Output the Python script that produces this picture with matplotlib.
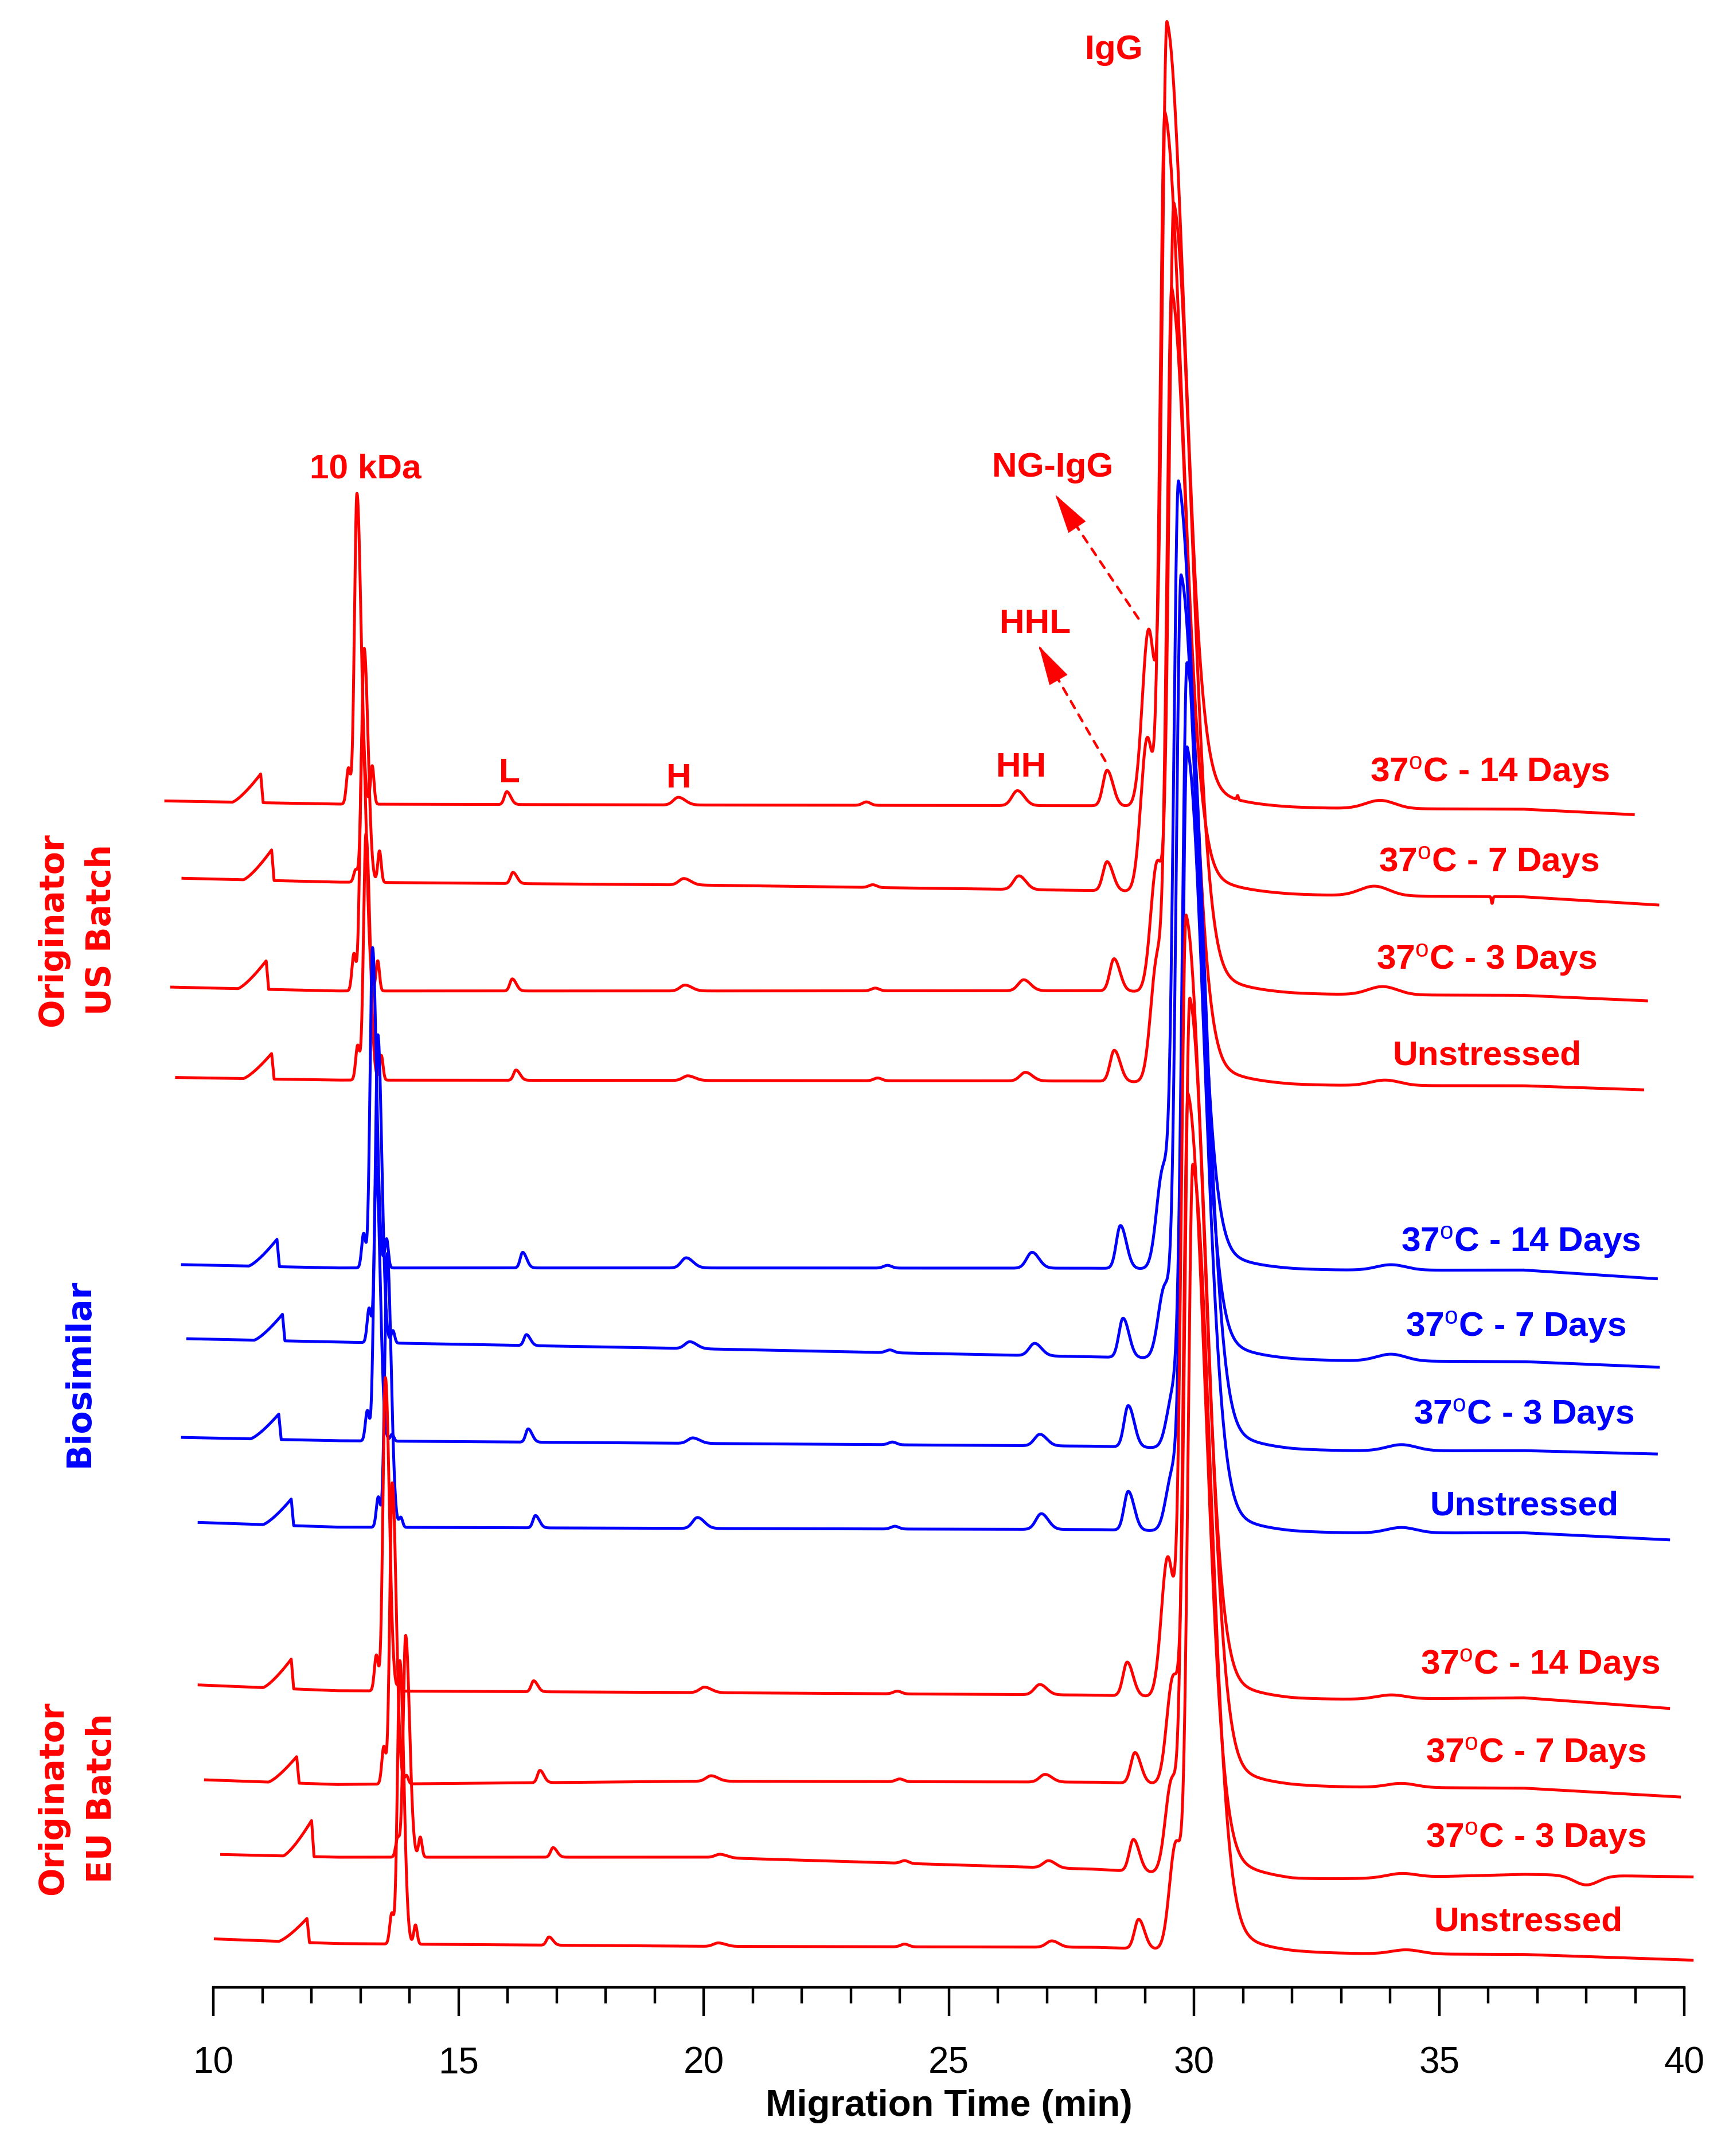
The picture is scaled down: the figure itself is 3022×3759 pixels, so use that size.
import numpy as np
import matplotlib
matplotlib.use("Agg")
import matplotlib.pyplot as plt
from matplotlib.ticker import MultipleLocator

plt.rcParams["font.family"] = ["Liberation Sans", "DejaVu Sans"]
plt.rcParams["mathtext.fontset"] = "custom"
plt.rcParams["mathtext.rm"] = "Liberation Sans"
plt.rcParams["mathtext.it"] = "Liberation Sans:italic"
plt.rcParams["mathtext.bf"] = "Liberation Sans:bold"

RED = "#ff0000"
BLUE = "#0000ff"

# traces: originator US (14d, 7d, 3d, unstressed), biosimilar (same), originator EU (same)
conditions = ["37$^{\\mathrm{o}}$C - 14 Days", "37$^{\\mathrm{o}}$C - 7 Days",
              "37$^{\\mathrm{o}}$C - 3 Days", "Unstressed"]
labels = conditions * 3
colors = [RED] * 4 + [BLUE] * 4 + [RED] * 4

t_start = [9.03, 9.38, 9.15, 9.25, 9.37, 9.48, 9.37, 9.71, 9.71, 9.84, 10.17, 10.04]
t_end = [38.96, 39.46, 39.23, 39.15, 39.43, 39.47, 39.43, 39.68, 39.68, 39.90, 40.16, 40.16]

# baseline level (stacked offset) at start, 12.5, 20, 28, 32, 36.7 min and end
base_knots = [12.5, 20, 28, 32, 36.7]
base_level = [
    [866.6, 864.3, 863.6, 863.1, 861.1, 860.6, 856.6],
    [810.1, 807.3, 805.1, 801.1, 797.6, 796.6, 790.6],
    [730.6, 727.8, 727.8, 728.0, 725.1, 724.6, 720.6],
    [664.6, 662.7, 662.4, 662.0, 658.6, 658.6, 655.6],
    [527.9, 525.5, 525.5, 525.3, 523.6, 524.0, 517.6],
    [473.8, 471.4, 466.4, 460.5, 457.6, 457.1, 453.0],
    [401.7, 399.3, 397.3, 395.3, 391.6, 392.1, 389.6],
    [339.6, 336.2, 335.2, 334.4, 331.6, 332.1, 326.9],
    [220.9, 216.7, 215.3, 213.5, 209.7, 211.6, 203.8],
    [151.6, 148.2, 150.6, 149.9, 146.2, 145.6, 139.1],
    [97.1, 95.1, 95.1, 86.3, 77.9, 82.6, 80.7],
    [35.4, 32.0, 30.0, 29.3, 24.6, 24.1, 19.9],
]

# peak positions (min) and heights
pre_t = [10.966, 11.189, 11.078, 11.189, 11.298, 11.410, 11.334, 11.589, 11.589, 11.700, 12.004, 11.910]
pre_h = [21, 22.4, 20.9, 18.7, 20, 19.4, 18.6, 19.4, 21.7, 19.4, 26.4, 17.6]
sh_t = [12.755, 12.903, 12.867, 12.943, 13.065, 13.177, 13.141, 13.364, 13.325, 13.476, 13.760, 13.638]
sh_h = [26, 9, 27, 25, 25, 25, 22, 22, 26, 27, 14, 22]
kda_t = [12.929, 13.076, 13.040, 13.113, 13.247, 13.356, 13.322, 13.546, 13.509, 13.649, 13.922, 13.805]
kda_h = [227, 171, 190, 180, 234, 225, 200, 200, 229, 220, 162, 207]
post_t = [13.241, 13.389, 13.353, 13.426, 13.534, 13.663, 13.646, 13.825, 13.80, 13.94, 14.221, 14.123]
post_h = [28, 23, 22, 18, 21, 9, 5, 7, 6, 6, 14.6, 14]
l_t = [15.985, 16.111, 16.097, 16.173, 16.309, 16.385, 16.421, 16.569, 16.533, 16.661, 16.929, 16.845]
l_h = [9.4, 8.2, 8.8, 7.5, 11.4, 8, 9.7, 9, 8, 9, 7, 6]
h_t = [19.484, 19.595, 19.618, 19.676, 19.643, 19.718, 19.777, 19.874, 20.017, 20.151, 20.335, 20.299]
h_h = [5.6, 4.7, 4.3, 3.4, 7.4, 5, 4, 8, 4, 4, 2.5, 2.5]
minor_t = [23.32, 23.45, 23.5, 23.55, 23.75, 23.8, 23.85, 23.9, 23.95, 24.0, 24.1, 24.1]
minor_h = [2.5, 2, 2, 2, 2, 2, 2, 2, 2, 2, 2, 2]
hh_t = [26.399, 26.430, 26.527, 26.563, 26.698, 26.751, 26.857, 26.887, 26.857, 26.963, 27.035, 27.100]
hh_h = [10.9, 10, 8, 6.3, 11.6, 9, 8.4, 11.5, 7.5, 5.6, 5.2, 4.6]
hhl_t = [28.228, 28.228, 28.370, 28.375, 28.501, 28.554, 28.660, 28.660, 28.638, 28.797, 28.766, 28.872]
hhl_h = [26, 21.3, 23.6, 22.8, 31.4, 28.7, 30.3, 28.4, 24.7, 22.4, 23.4, 21.5]
ng_t = [29.076, 29.048, 29.249, 29.249, 29.369, 29.403, 29.581, 29.562, 29.465, 29.576, 29.548, 29.632]
ng_h = [129, 112, 94, 89, 72, 52, 40, 42, 102, 78, 68, 78]
igg_t = [29.450, 29.408, 29.590, 29.548, 29.685, 29.738, 29.86, 29.86, 29.840, 29.917, 29.880, 29.978]
igg_h = [571.5, 567.5, 573.6, 574.6, 572, 570.7, 570, 570, 570, 572, 568, 572]
bump_t = [33.80, 33.68, 33.85, 33.90, 34.02, 34.02, 34.23, 34.23, 34.02, 34.23, 34.23, 34.33]
bump_h = [6, 7, 6, 4, 4, 5, 4.5, 4, 3, 3, 3, 3]

# one-off features (trace index, time, height, width)
extra_idx = [0, 1, 10]
extra_t = [30.89, 36.08, 38.0]
extra_h = [3, -5, -7]
extra_w = [0.015, 0.015, 0.25]

# label positions
label_t = [36.03, 36.01, 35.97, 35.97, 36.67, 36.56, 36.72, 36.74, 37.06, 36.97, 36.97, 36.82]
label_y = [880.6, 814.6, 743.6, 674.0, 537.4, 475.4, 411.3, 345.0, 228.4, 163.9, 102.2, 41.4]

peak_names = ["IgG", "NG-IgG", "HHL", "HH", "L", "H", "10 kDa"]
peak_name_t = [28.361, 27.119, 26.765, 26.477, 16.044, 19.492, 13.104]
peak_name_y = [1408.3, 1103.3, 989.3, 884.3, 880.3, 876.3, 1102.3]

arrow_tail = [(28.868, 999.8), (28.191, 895.8)]
arrow_tip = [(27.175, 1090.2), (26.840, 979.6)]

groups = ["Originator\nUS Batch", "Biosimilar", "Originator\nEU Batch"]
group_colors = [RED, BLUE, RED]
group_pos = [(0.0446, 0.5688), (0.0456, 0.3631), (0.0447, 0.166)]

IGG_TAIL = 45


def peak(t, t0, h, wl, wr=None):
    wr = wl if wr is None else wr
    w = np.where(t < t0, wl, wr)
    return h * np.exp(-0.5 * ((t - t0) / w) ** 2)


def tail(t, t0, h, wl, tau):
    left = h * np.exp(-0.5 * ((t - t0) / wl) ** 2)
    right = h * np.exp(-np.clip(t - t0, 0, None) / tau)
    return np.where(t < t0, left, right)


def ramp(t, t0, h, wl, wr):
    # slow ramp up, sharp drop (the early system peak)
    up = np.clip(1 - (t0 - t) / wl, 0, 1) ** 1.3
    down = np.clip(1 - (t - t0) / wr, 0, 1)
    return h * np.where(t < t0, up, down)


fig = plt.figure(figsize=(30.22, 37.59), dpi=100)
ax = fig.add_axes([0.1231, 0.0782, 0.8488, 0.9218])

for i in range(12):
    t = np.linspace(t_start[i], t_end[i], 9000)
    y = np.interp(t, [t_start[i]] + base_knots + [t_end[i]], base_level[i])
    y = y + ramp(t, pre_t[i], pre_h[i], 0.58, 0.05)
    y += peak(t, sh_t[i], sh_h[i], 0.04)
    y += peak(t, kda_t[i], kda_h[i], 0.05, 0.08)
    y += peak(t, post_t[i], post_h[i], 0.035)
    y += peak(t, l_t[i], l_h[i], 0.05, 0.08)
    y += peak(t, h_t[i], h_h[i], 0.1, 0.14)
    y += peak(t, minor_t[i], minor_h[i], 0.08)
    y += peak(t, hh_t[i], hh_h[i], 0.11, 0.14)
    y += peak(t, hhl_t[i], hhl_h[i], 0.085, 0.12)
    y += peak(t, ng_t[i], ng_h[i], 0.13)
    y += peak(t, igg_t[i], igg_h[i] - IGG_TAIL, 0.1, 0.36)
    y += tail(t, igg_t[i], IGG_TAIL, 0.1, 0.7)
    y += peak(t, bump_t[i], bump_h[i], 0.3)
    for k in range(len(extra_idx)):
        if extra_idx[k] == i:
            y += peak(t, extra_t[k], extra_h[k], extra_w[k])
    ax.plot(t, y, color=colors[i], lw=3.6, clip_on=False, zorder=2 + i * 0.01)
    ax.text(label_t[i], label_y[i], labels[i], color=colors[i], fontsize=43.5,
            fontweight="bold", ha="center", va="baseline")

for name, tx, ty in zip(peak_names, peak_name_t, peak_name_y):
    ax.text(tx, ty, name, color=RED, fontsize=43.5, fontweight="bold",
            ha="center", va="baseline")

for tl, tp in zip(arrow_tail, arrow_tip):
    # dashed shaft, then a solid filled head on the last part of it
    ax.annotate("", xy=tp, xytext=tl,
                arrowprops=dict(arrowstyle="-", color=RED, lw=3.2,
                                linestyle=(0, (3, 3)), shrinkA=0, shrinkB=0))
    near = (tp[0] + 0.2 * (tl[0] - tp[0]), tp[1] + 0.2 * (tl[1] - tp[1]))
    ax.annotate("", xy=tp, xytext=near,
                arrowprops=dict(arrowstyle="-|>,head_length=4.77,head_width=1.27",
                                mutation_scale=10, color=RED, lw=0.5,
                                shrinkA=0, shrinkB=0))

for g, c, (gx, gy) in zip(groups, group_colors, group_pos):
    fig.text(gx, gy, g, color=c, fontsize=42, fontweight="bold", family="DejaVu Sans",
             rotation=90, ha="center", va="center", multialignment="center",
             linespacing=1.6)

ax.set_xlim(10, 40)
ax.set_ylim(0, 1451.6)
for s in ["left", "right", "top"]:
    ax.spines[s].set_visible(False)
ax.spines["bottom"].set_linewidth(3.2)
ax.set_yticks([])
ax.xaxis.set_major_locator(MultipleLocator(5))
ax.xaxis.set_minor_locator(MultipleLocator(1))
ax.tick_params(axis="x", which="major", direction="out", length=36, width=3.2,
               labelsize=46, pad=38)
ax.tick_params(axis="x", which="minor", direction="out", length=20, width=3.2)
ax.set_xlabel("Migration Time (min)", fontsize=47, fontweight="bold", labelpad=10)
ax.patch.set_alpha(0)

fig.savefig("out.png", dpi=100)
